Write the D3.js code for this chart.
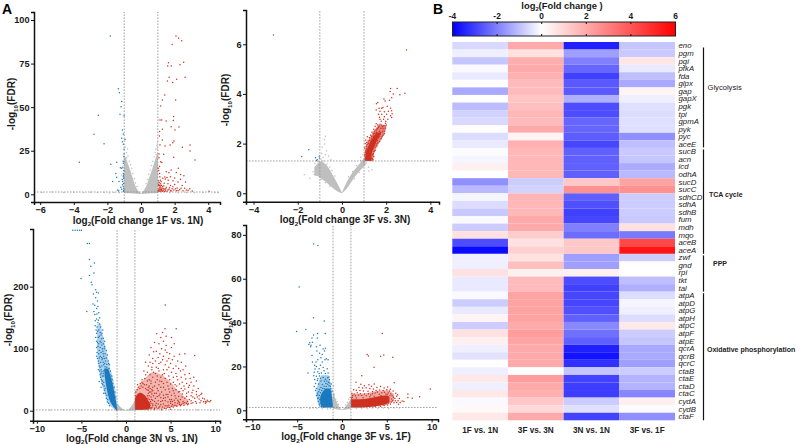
<!DOCTYPE html>
<html><head><meta charset="utf-8">
<script src="https://cdn.jsdelivr.net/npm/d3@7"></script>
<style>html,body{margin:0;padding:0;background:#fff}svg{display:block}text{font-family:"Liberation Sans",Arial,sans-serif}</style>
</head><body><svg id="fig" width="798" height="444"></svg>
<script>
// Volcano panel 1: 1F vs. 1N
const up1 = [[2.08,90.8],[2.24,89.5],[2.42,88.1],[1.85,85.9],[1.63,75.5],[2.54,75.7],[2.32,74.4],[1.59,73.6],[1.8,73.6],[1.67,67.1],[2.62,67.1],[1.57,65],[2.12,66],[1.88,64.2],[1.41,57],[1.27,54.1],[2.06,54.1],[1.17,50.7],[1.13,42.6],[1.23,42.6],[1.94,44.6],[1.49,42],[1.92,42.3],[1.27,37.3],[1.79,38.8],[2.02,36.9],[2.26,38.6],[1.11,36],[1.09,33.5],[1.27,31.2],[1.96,30.6],[1.89,29.6],[1.73,28.3],[1.43,27.7],[1.13,28.3],[2.92,28.3],[2.46,27],[2.92,24.9],[1.94,21.2],[3.21,19.7],[1.07,23.1],[1.17,18.7],[1.79,14],[2.22,14.9],[1.24,18.2],[1.07,21],[1.5,13],[1.66,12.3],[2.35,11.4],[2.55,10.6],[2.1,12.5],[1.1,12],[1.12,10],[1.3,9.2],[1.45,8.8],[1.55,9.6],[1.9,7.8],[2.2,7],[1.08,6.8],[1.15,6],[1.22,5.2],[1.38,6.4],[1.6,6],[2.0,5.6],[2.45,5],[1.05,5],[1.12,4.2],[1.18,3.6],[1.28,4.4],[1.35,3.2],[1.5,4],[1.7,3.8],[1.85,3.2],[2.15,3.6],[2.3,2.6],[2.6,3.4],[2.9,3.2],[1.06,3],[1.1,2.4],[1.2,2.2],[1.32,2.5],[1.45,2.1],[1.6,2.4],[1.75,2.2],[1.95,2.5],[2.1,2],[2.5,2.1],[2.8,2.3],[3.05,1.9],[4.05,1.8],[1.04,1.7],[1.14,1.6],[1.26,1.8],[1.4,1.6],[1.55,1.7],[1.16,8],[1.05,7.6],[1.2,7.2],[1.04,5.8],[1.1,5.2],[1.17,4.8],[1.25,3.4],[1.08,3.6],[1.15,2.9],[1.22,2.8],[1.3,1.9],[1.12,1.9],[1.02,2.2],[1.36,4.9],[1.42,2.9],[1.48,3.2],[1.66,2.9],[1.8,1.9],[1.9,4.4],[2.05,3.2],[2.2,2.2],[2.38,3.4],[2.7,2.4],[1.42,9.9],[1.75,10],[2.0,9.4],[2.35,8.6],[1.62,8],[2.65,7],[1.03,15],[1.05,13.6],[1.1,15.9],[1.35,23],[1.75,5]];
const down1 = [[-1.83,90.8],[-1.35,60.6],[-1.29,58.3],[-1.15,53.2],[-1.19,50.3],[-1.01,45],[-2.54,45.3],[-1.25,45.9],[-2.8,34.4],[-2.2,29],[-3.67,18.4],[-1.8,17.2],[-1.45,18.4],[-1.5,11.9],[-1.45,9.8],[-1.69,7.3],[-1.31,7.3],[-1.4,2.5],[-1.33,2.1],[-1.11,36.9],[-1.05,34.6],[-1.15,32.1],[-.95,31.5],[-1.11,30.2],[-1.05,28.7],[-1.01,25.8],[-1.01,23.1],[-1.02,21.6],[-1.05,17.8],[-1.15,14.9],[-1.05,12],[-1.03,9.2],[-1.09,7.3],[-1.05,4.4],[-1.15,2.9],[-1.03,2.1],[-1.23,15.3],[-1.04,11],[-1.1,5.5],[-1.02,3.2],[-1.03,19],[-1.08,15.5],[-1.02,13.6],[-1.06,10],[-1.12,8.5],[-1.04,6.2],[-1.2,4],[-1.04,1.8]];
const grey1 = [[-5.9,1.1],[-5.3,1.3],[-4.6,1],[-4,1.2],[-3.4,.9],[-3,1.2],[-2.6,1],[-2.2,1.1],[-1.9,.8],[-1.6,1.1],[-1.3,.9],[-1.1,19],[-1.15,11],[-.92,27],[-.86,24],[-.8,26],[.98,30],[.94,28],[.88,26],[1.7,.9],[2.2,.8],[2.7,1],[3.2,.9],[3.7,1],[4.4,1.1],[4.6,.9],[-.85,21],[-.78,22],[-.7,19],[-.62,17],[-.55,15],[-.48,12],[-.4,9],[-.33,6.5],[-.24,4.5],[.3,6],[.38,8.5],[.46,11.5],[.54,14],[.62,16.5],[.7,19],[.78,21.5],[.84,24],[.9,23],[.96,26]];
const lobe1L = {x:[-1,-.9,-.8,-.65,-.5,-.4,-.25,-.1,0], lo:[.6,.6,.6,.6,.5,.5,.3,.2,.1], hi:[22,21,18,14,9.5,6.5,3.2,1.4,.3]};
const lobe1R = {x:[0,.1,.2,.35,.5,.65,.8,.95,1], lo:[.1,.2,.3,.5,.5,.6,.6,.6,.6], hi:[.3,1.4,2.8,5.5,10,14,18.5,23,24]};

// Volcano panel 2: 3F vs. 3N
const up2 = [[2.92,5.77],[2.5,4.22],[2.2,4.22],[2.85,4.03],[2.62,3.97],[2.18,4.1],[2.32,4],[2.25,3.85],[1.9,3.8],[1.95,3.72],[2.15,3.75],[1.62,3.65],[1.56,3.6],[1.68,3.42],[1.85,3.45],[2.05,3.5],[2.2,3.42],[2.25,3.32],[1.8,3.42],[1.55,3.35],[1.72,3.3],[1.92,3.28],[2.1,3.3],[2.27,3.2],[1.65,3.18],[1.8,3.18],[2.02,3.18],[2.2,3.12],[1.7,3.06],[1.92,3.08],[2.25,3.05],[1.72,2.98],[1.88,2.98],[2.08,2.98],[1.78,2.9],[1.98,2.9],[1.55,2.8],[1.62,2.75],[1.72,2.78],[1.8,2.75],[1.9,2.72],[2,2.75],[1.5,2.7],[1.65,2.65],[1.76,2.62],[1.86,2.6],[1.96,2.62],[1.44,2.58],[1.55,2.55],[1.7,2.5],[1.83,2.48],[1.92,2.5],[1.36,2.46],[1.48,2.42],[1.62,2.38],[1.72,2.36],[1.86,2.34],[1.3,2.34],[1.42,2.3],[1.54,2.26],[1.66,2.24],[1.77,2.2],[1.15,2.28],[1.24,2.24],[1.36,2.18],[1.47,2.14],[1.6,2.12],[1.7,2.08],[1.08,2.14],[1.18,2.1],[1.3,2.06],[1.42,2.02],[1.55,1.98],[1.05,2],[1.14,1.96],[1.25,1.92],[1.37,1.88],[1.5,1.86],[1.02,1.82],[1.12,1.78],[1.22,1.74],[1.35,1.72],[1.45,1.68],[1.05,1.65],[1.15,1.6],[1.28,1.58],[1.38,1.55],[1.03,1.5],[1.13,1.45],[1.25,1.42],[1.36,1.4],[1.05,1.36],[1.18,1.33],[1.3,1.32],[1.97,2.82],[1.84,2.68],[1.6,2.6],[1.42,2.4],[1.92,2.4],[1.81,2.28],[1.7,2.3],[1.25,2.12],[1.12,2.04],[1.62,2.02],[1.5,2.06],[1.58,1.9],[1.44,1.95],[1.4,1.78],[1.5,1.72],[1.1,1.88],[1.08,1.7],[1.42,1.6],[1.44,1.48],[1.4,1.35],[1.06,1.42],[1.74,2.44],[1.68,2.7],[1.46,2.5],[1.34,2.28],[1.56,2.46],[1.2,2],[1.04,1.56]];
const down2 = [[-3.1,6.37],[-1.5,1.75],[-1.82,1.48],[-1.03,1.5],[-1.02,1.42],[-1.2,1.43],[-1.12,1.35],[-1.15,1.32]];
const grey2 = [[-.75,2.3],[-.8,2.15],[-.78,1.98],[-.9,1.85],[-.7,1.7],[-.92,1.6],[-.75,1.55],[-.6,1.5],[-.85,1.45],[-.5,1.35],[-1.15,.95],[-1.3,.88],[-1.25,.75],[-1.7,.75],[-1.45,.6],[.95,1.55],[.85,1.45],[1.2,1.05],[1.35,.95],[-1.22,1.2],[-1.1,1.28],[-.95,1.38],[-.85,1.3],[-.68,1.18],[-.55,1.06],[-.45,.92],[-.32,.7],[.3,.66],[.48,.88],[.66,1.12],[.84,1.32],[1.1,1.22],[1.22,.9],[.78,.84],[.56,.58],[-.95,.55],[-.75,.42],[-.55,.28]];
const band2L = {x:[-1.25,-1.1,-1,-.8,-.6,-.4,-.2,0], lo:[.72,.7,.62,.5,.35,.2,.07,0], hi:[1.05,1.2,1.28,1.22,1.02,.72,.38,.03]};
const band2R = {x:[0,.2,.4,.6,.8,1,1.07], lo:[0,.17,.42,.68,.9,1.08,1.15], hi:[.03,.42,.74,.98,1.2,1.42,1.5]};
const wedge2 = {y:[1.3,1.6,1.9,2.2,2.45], x0:[1.06,1.08,1.2,1.36,1.56], x1:[1.33,1.35,1.48,1.62,1.78]};
const halo2 = {y:[1.3,1.6,1.9,2.2,2.5,2.75], x0:[1.03,1.03,1.08,1.24,1.44,1.66], x1:[1.42,1.46,1.6,1.8,1.96,2.02]};

// Volcano panel 3: 3N vs. 1N
const up3 = [[4.4,170.6],[4.37,132],[5.63,132],[3.43,124],[3.9,118],[4.1,126],[4.5,120],[3.2,110],[3.7,108],[4.2,112],[4.5,105],[5.1,118],[5.4,108],[2.8,102],[3.4,96],[4,100],[4.6,94],[5.1,102],[6,91],[6.6,92],[7.7,89],[2.6,90],[3,84],[3.6,86],[4.2,88],[4.8,84],[5.4,88],[2.2,78],[2.5,72],[3,76],[3.4,70],[3.9,78],[4.4,74],[5,76],[5.6,72],[6.2,78],[6.7,72],[2,64],[2.4,62],[2.9,66],[3.3,60],[3.7,64],[4.1,58],[4.6,66],[5.1,62],[5.6,60],[6.1,64],[6.6,58],[7.1,60],[7.6,54],[7.9,48],[2.1,52],[2.6,50],[3,54],[3.5,50],[4,47],[4.4,52],[4.9,50],[5.3,46],[5.8,50],[6.3,46],[6.8,44],[7.3,46],[8.1,36],[1.6,44],[2.3,42],[2.8,44],[3.2,40],[3.7,42],[4.2,38],[4.7,40],[5.2,36],[5.7,40],[6.2,36],[6.6,35],[7,38],[7.5,33],[8.5,28],[8.4,26],[7.9,26],[7.3,24],[6.8,28],[6.3,27],[5.9,30],[5.4,28],[4.9,30],[4.5,26],[4,30],[3.6,32],[3.2,28],[2.9,34],[2.5,33],[2.4,24],[2.8,22],[3.3,20],[3.7,24],[4.2,20],[4.7,22],[5.1,18],[5.6,20],[6.1,18],[6.6,20],[7.1,18],[7.7,20],[8.2,19],[8.8,19],[9.4,14.5],[9.2,15],[9,14],[8.7,14.5],[8.3,13],[7.9,12],[7.5,13],[7,11],[6.6,13],[6.2,10],[5.8,12],[5.4,9],[5,12],[4.6,8],[4.2,11],[3.8,7],[3.4,12],[3,8],[2.6,13],[2.4,6],[3.2,4],[3.6,3],[4,2.5],[4.5,3.5],[4.9,5],[5.3,6],[5.7,7],[6.1,8],[6.5,9],[6.9,9.5],[2.8,3],[5,2.5],[9.5,16.5],[8.9,12],[3.9,15],[4.4,16],[5.2,15],[5.9,15],
[3.1,95],[3.8,92],[4.4,98],[4.9,92],[3.3,80],[3.7,76],[4.1,82],[4.6,80],[5.2,82],[5.8,80],[2.7,78],[2.9,70],[3.6,68],[4.2,66],[4.8,70],[5.3,68],[5.9,68],[6.4,66],[2.2,58],[2.7,58],[3.1,62],[3.5,56],[3.9,54],[4.3,60],[4.8,56],[5.3,54],[5.7,55],[6.2,54],[6.7,51],[7.2,52],[1.8,50],[2.4,48],[2.8,48],[3.3,46],[3.8,48],[4.2,44],[4.6,46],[5,43],[5.5,42],[6,43],[6.5,40],[7.1,41],[7.6,40],[1.9,44],[2.6,40],[3,38],[3.5,36],[3.9,38],[4.4,34],[4.8,35],[5.3,32],[5.6,34],[6,31],[6.4,32],[7,30],[7.4,29],[7.9,31],[8.2,24],[2.7,36],[3,32],[3.4,28],[3.8,27],[4.2,25],[4.7,26],[5.1,25],[5.5,24],[5.9,23],[6.3,22],[6.8,23],[7.5,22],[8,22],[8.6,20],[9.1,17],[2.5,28],[2.9,27],[3.1,24],[3.5,23],[3.9,21],[4.4,21],[4.9,18],[5.4,17],[5.8,17],[6.4,15],[6.9,15],[7.3,16],[7.8,15],[8.4,16],[8.9,15],[2.6,18],[3,17],[3.2,15],[3.6,16],[4.1,16],[4.7,14],[5,15],[5.5,13],[6,13],[6.4,12],[6.8,12],[7.3,12],[2.8,12],[3,11],[3.3,9],[3.6,11],[3.9,10],[4.4,8],[4.8,9],[5.2,10],[5.6,9],[6,10],[2.6,8],[2.9,5],[3.4,6],[3.7,5],[4.1,6],[4.3,4],[4.7,5.5],[5.1,7],[2.5,3],[3.2,2],[2.7,5],
[1.1,30],[1.25,34],[1.4,38],[1.55,36],[1.7,40],[1.9,38],[2.05,42],[2.2,36],[2.35,34],[2.5,38],[2.65,30],[2.8,30],[1.3,42],[1.8,46],[1.05,24],[2.45,20],[2.6,24],[2.75,15],[2.85,18],[2.55,11],[2.7,9]];
const down3 = [[-5.97,291],[-5.7,291],[-5.45,291],[-5.2,291],[-5,291],[-4.33,269.5],[-4.1,269.5],[-4.1,244],[-3.54,238],[-3.95,233],[-3.6,222],[-5.04,213],[-4.1,218],[-3.9,207],[-3.8,203],[-3.3,191],[-3.1,190],[-3.4,182],[-3.2,177],[-3.7,172],[-4.4,160],[-3.3,165],[-3.5,155],[-3.05,158],[-3.3,148],[-2.95,150],[-3.15,142],[-3.45,137],[-2.85,135],[-3.05,130],[-2.6,130],[-3.3,125],[-2.8,122],[-3.1,118],[-2.55,117],[-3.2,110],[-2.9,112],[-2.4,112],[-2.7,106],[-3.3,102],[-2.4,103],[-3,97],[-2.6,96],[-2.2,97],[-3.3,88],[-2.9,88],[-2.5,88],[-2.1,90],[-3.1,80],[-2.7,82],[-2.3,80],[-2,80],[-3,72],[-2.5,74],[-1.85,74],[-3.1,66],[-2.7,63],[-2.3,66],[-1.75,64],[-2.9,58],[-2.5,56],[-1.6,56],[-2.75,50],[-3,47],[-2.6,42],[-2.8,38],[-2.4,33],[-2.5,28],[-2.2,20],[-2.1,14],[-1.85,8],
[-3.4,195],[-3.65,188],[-3.5,170],[-3.15,168],[-3.6,160],[-3.25,156],[-3.45,145],[-3.1,146],[-3.25,135],[-2.95,140],[-3.35,130],[-3.2,128],[-2.9,126],[-2.7,125],[-3.4,118],[-3,120],[-2.75,116],[-3.3,112],[-3.05,108],[-2.8,110],[-2.55,108],[-3.15,104],[-2.9,102],[-2.65,100],[-2.45,100],[-3.25,94],[-3.05,92],[-2.8,94],[-2.55,92],[-2.35,92],[-3.2,84],[-3,85],[-2.75,86],[-2.6,84],[-2.4,84],[-2.2,85],[-2.85,78],[-2.55,78],[-2.4,76],[-2.15,75],[-1.95,76],[-3.05,76],[-2.9,70],[-2.7,72],[-2.35,71],[-2.15,70],[-1.9,68],[-2.95,64],[-2.8,66],[-2.5,64],[-1.95,62],[-2.8,60],[-2.65,56],[-2.55,60],[-1.8,58],[-1.7,52],[-2.85,54],[-2.65,48],[-2.5,46],[-1.55,50],[-1.5,44],[-2.7,44],[-2.45,40],[-2.35,36],[-1.35,38],[-1.25,30],[-2.3,28],[-1.15,22],[-2.15,25],[-2.05,18],[-1.95,12]];
const grey3 = [[-1.1,6],[-.95,10],[1.02,14],[.95,12],[.85,8],[-2,.7],[-3.5,1],[-5,.8],[-7,1],[-8.5,.9],[2.5,1],[4,.9],[6,1.2],[8,1.1],[9.5,.9]];
const wedge3B = {y:[0,6,14,25,40,55,68], x0:[-1.05,-1.4,-1.75,-2,-2.22,-2.38,-2.45], x1:[-1,-1.02,-1.1,-1.25,-1.45,-1.72,-2]};
const halo3B = {y:[0,10,25,50,75,100,125,140], x0:[-1.08,-1.9,-2.35,-2.85,-3.1,-3.25,-3.25,-3.2], x1:[-1,-1.02,-1.12,-1.42,-1.9,-2.25,-2.65,-2.85]};
const wedge3R = {x:[1,1.3,1.6,2,2.4,2.7], lo:[1,1,1,1.5,2,4], hi:[20,27,29,26,19,10]};
const halo3R = {x:[1,1.5,2,2.5,3,4,5,6,7], lo:[1,1,1,1.5,2,3,5,8,11], hi:[30,42,50,58,62,58,46,30,17]};
const bowl3 = {x:[-1,-.8,-.5,-.25,0,.25,.5,.8,1], lo:[.6,.5,.4,.2,0,.2,.4,.5,.6], hi:[12,9,4.5,2,.6,2,5,12,18]};

// Volcano panel 4: 3F vs. 1F
const up4 = [[4.5,35],[2.8,25.5],[2.95,24.8],[4.3,24.6],[4.66,25.2],[5.67,24.2],[3.58,19.6],[2.2,15.8],[9.85,9.7],[8.66,6.2],[7.35,7.4],[7.35,5.8],[7.84,5.5],[6.9,4],[1.57,12.8],[5.82,12.6],[2.1,11.9],[2.5,11.2],[3,11.6],[3.3,11],[3.6,12],[1.9,10.4],[2.3,10.2],[2.7,10.3],[3.1,9.9],[3.5,9.7],[3.9,10.4],[4.3,10.8],[4.7,10.2],[5.1,10.6],[5.4,9.6],[1.3,9.4],[1.6,9.2],[2,9],[2.4,8.8],[2.9,8.7],[3.4,8.6],[3.8,9],[4.2,9.3],[4.6,9],[5,9.4],[5.3,8.8],[5.7,8.8],[6,7.8],[6.2,7.1],[6.1,6.4],[6.4,5.4],[5.9,5.5],[6.5,3.6],[6.1,3.6],[5.8,3.4],[5.4,2.9],[5.1,2.4],[4.7,2.2],[4.3,1.9],[6.7,4.3],
[1.1,7.8],[1.2,6.8],[1.35,7.4],[1.5,6.6],[1.7,8],[1.85,7],[2.05,7.6],[2.2,6.7],[2.5,7.4],[2.7,6.6],[2.95,7.5],[3.2,7],[3.4,7.6],[3.7,7.9],[3.95,8.4],[4.15,7.3],[4.45,8],[4.75,8.2],[4.9,7.4],[5.15,7.9],[5.45,7.4],[5.6,6.6],[5.75,6],[5.55,5.2],[5.65,4.4],[5.5,3.8],[5.95,4.4],[6.25,4.4],[6.3,2.8],[5.2,3.3],[4.9,2.9],[4.55,2.5],[4.1,2.2],[3.7,1.8],[1.05,5.6],[1.15,6],[1.6,5.6],[2.35,5.7],[3.1,6.2],[3.6,6.4],[4.35,6.8],[5.05,7.1],[5.35,6.6]];
const down4 = [[-3.17,75.8],[-2.69,75.2],[-4.78,56.2],[-3.17,42.2],[-1.98,40.7],[-4.03,36.9],[-5.07,35.9],[-2.72,35],[-3.17,34.3],[-1.87,35],[-3.35,33],[-2.75,33],[-3.3,31],[-3.6,30.8],[-3.7,30],[-3.45,29.7],[-3.5,29],[-2.85,29],[-2.45,29.7],[-1.85,28.3],[-2.1,28],[-1.95,27],[-2.8,27],[-3.35,25],[-2.5,26],[-2.2,25.4],[-2.35,24],[-1.75,23.5],[-1.9,23],[-1.55,23],[-2.7,23],[-3.3,22],[-3.05,20.5],[-2.85,20],[-3,18.8],[-2.55,19],[-2.1,19.5],[-3.8,17],[-3.1,17.4],[-2.7,17.6],[-2.3,17],[-1.85,16.8],[-3.15,15.8],[-2.85,15.5],[-2.5,15.6],[-2.1,15],[-3.05,14],[-2.75,13.6],[-2.35,13.4],[-1.95,13.2],[-2.95,12.2],[-2.6,12],[-2.2,11.8],[-3.1,10.8],[-2.85,10],[-2.95,9],[-2.75,7.8],[-2.85,6.8],[-2.7,5.5],[-2.5,2.4],[-2.1,1.5],
[-1.45,15.2],[-1.6,14.8],[-1.4,14],[-1.7,13.4],[-1.5,12.8],[-1.35,12.5],[-1.8,12.2],[-1.6,11.9],[-1.45,11.2],[-1.3,11],[-2,11],[-1.75,10.8],[-2.35,10.4],[-2.15,10],[-1.95,9.8],[-2.5,9.5],[-2.25,9],[-2.6,8.5],[-2.4,8],[-2.7,7],[-2.5,6.8],[-2.6,5.6],[-2.48,4.8],[-2.62,4],[-2.45,3.2],[-2.25,2.4],[-2.3,1.7],[-1.2,12],[-1.25,9.8],[-1.12,8.6],[-1.85,14.2],[-2.4,14.6],[-2.7,14.4],[-2.55,16.8],[-2,18],[-2.4,20.5],[-2.9,22],[-2.2,22],[-1.65,19],[-1.55,17]];
const grey4 = [[-1.05,9],[-.95,11],[-.9,7.5],[1.1,5],[.95,6],[-3.2,1],[-3.6,.8],[-2.8,.9],[-2.2,.7],[-1.6,.6],[-1.3,.8],[1.6,.8],[2.2,.9],[2.8,.7],[3.4,1],[4,.9],[4.6,1],[5.2,.8],[5.8,1.1],[6.4,1],[-4.6,1.1],[-5.8,.9],[-.85,7],[-.7,5],[-.55,4],[-.4,2.6],[.4,2.4],[.6,3.6],[.75,5],[.9,5.8]];
const wedge4B = {y:[1.3,3,5,7,9,10], x0:[-2.1,-2.4,-2.45,-2.35,-2.05,-1.8], x1:[-1,-1.03,-1.08,-1.15,-1.25,-1.35]};
const halo4B = {y:[1.3,4,8,12,16], x0:[-2.5,-2.75,-2.85,-2.7,-2.3], x1:[-1,-1.02,-1.1,-1.28,-1.5]};
const wedge4R = {x:[1,1.5,2,3,4,5,5.3], lo:[1.3,1.3,1.3,1.5,2.1,3,3.8], hi:[5,5,5,5.5,6.3,6.8,6]};
const halo4R = {x:[1,2,3,4,5,5.8], lo:[1.3,1.3,1.4,1.9,2.7,4.2], hi:[7.5,7.5,8,8.8,9.2,7.4]};
const bowl4 = {x:[-1,-.8,-.5,-.25,0,.25,.5,.8,1], lo:[.7,.6,.4,.2,0,.2,.4,.6,.7], hi:[8.5,6,3,1.2,.3,1,2.2,4,5.5]};

// Heatmap of log2 fold changes; one column per comparison
const comparisons = ["1F vs. 1N","3F vs. 3N","3N vs. 1N","3F vs. 1F"];
const genes = ["eno","pgm","pgi","pfkA","fda","glpx","gap","gapX","pgk","tpi","gpmA","pyk","pyc","aceE","sucB","acn","icd","odhA","sucD","sucC","sdhCD","sdhA","sdhB","fum","mdh","mqo","aceB","aceA","zwf","gnd","rpi","tkt","tal","atpA","atpD","atpG","atpH","atpC","atpF","atpE","qcrA","qcrB","qcrC","ctaB","ctaE","ctaD","ctaC","cydA","cydB","ctaF"];
const fc1F1N = [-.6,-.25,-.9,-.1,-.35,0,-1.35,0,-1.05,-.7,-.6,.05,-.55,-.35,-.05,-.15,.35,0,-1.75,-1.1,-.15,-.55,-.85,-.1,-.8,.7,-2.8,-3.85,-.25,-.25,.7,-.35,-.35,-.1,-.8,-.35,.25,-.8,.7,.35,-.25,-.45,-.02,-.25,.55,-.25,.55,-.1,.15,.55];
const fc3F3N = [2,.7,1.9,2,1.85,1.6,1.6,1.4,1.5,1.7,1.6,2,.25,1.85,1.7,1.7,1.7,1.7,-.8,-.7,1.75,1.7,1.7,2,2,1.2,.7,1.1,.7,1.5,.35,1.6,1.6,2.2,2.2,2.2,2.2,2,2.3,2.15,2,2,2,0,2.3,2,1.85,1.3,.9,2];
const fc3N1N = [-3.5,-1.5,-2,-2.4,-3,-2.6,-2.6,-1.25,-2.8,-2.8,-2.4,-2.4,-2.55,-2.9,-2.5,-2.5,-2.5,-2.5,1.3,2.6,-2.5,-2.75,-3,-2.9,-2,-2.3,1.3,1.3,-1.5,-1.5,.35,-2.8,-3,-2.9,-2.9,-2.75,-2.5,-1.85,-2.25,-2.5,-3.5,-3.7,-3.25,-.9,-2.95,-3.05,-3.05,-.8,-.5,-2.95];
const fc3F1F = [-.9,-.85,.6,-.35,-1,-1.35,.25,-.25,-.5,-.55,-.5,-.5,-1.75,-1,-.85,-.9,-1.3,-1.1,2.2,2.6,-.8,-.8,-.8,-.85,.7,-2.1,4.3,5.5,-.8,.05,0,-1,-1.25,-.55,-.15,-.25,-.55,.55,-.8,-.9,-1.35,-1.35,-1.5,-.8,-1.2,-1.2,-1.9,.35,-.05,-1.75];
const heatColumns = [fc1F1N,fc3F3N,fc3N1N,fc3F1F];
const legendTicks = [-4,-2,0,2,4,6];
const pathways = [{name:"Glycolysis",first:0,last:13,bold:false,labelY:87.3,labelX:707.5},{name:"TCA cycle",first:14,last:27,bold:true,labelY:195,labelX:709},{name:"PPP",first:28,last:32,bold:true,labelY:263.7,labelX:713},{name:"Oxidative phosphorylation",first:33,last:49,bold:true,labelY:349.3,labelX:707}];

const svg = d3.select("#fig");
const BLUE="#1a7abf", RED="#cf3020", GREY="#bfbfbf";

// A bold axis caption with a small subscript "2" or "10"
function subLabel(sel, before, sub, after, size){
  sel.attr("font-weight","bold").attr("font-size",size).attr("fill","#1a1a1a").attr("text-anchor","middle");
  sel.append("tspan").text(before);
  sel.append("tspan").text(sub).attr("font-size",size*.62).attr("dy",size*.28);
  sel.append("tspan").text(after).attr("dy",-size*.28);
}

function volcano(p){
  const g = svg.append("g");
  const x = d3.scaleLinear().domain(p.xDomain).range(p.xRange);
  const y = d3.scaleLinear().domain(p.yDomain).range(p.yRange);
  const [bottom, top] = p.yRange;

  const horizontal = d3.area().x(d=>x(d.x)).y0(d=>y(d.lo)).y1(d=>y(d.hi)).curve(d3.curveMonotoneX);
  const vertical = d3.area().y(d=>y(d.y)).x0(d=>x(d.x0)).x1(d=>x(d.x1)).curve(d3.curveMonotoneY);
  const zipH = c => c.x.map((v,i)=>({x:v,lo:c.lo[i],hi:c.hi[i]}));
  const zipV = c => c.y.map((v,i)=>({y:v,x0:c.x0[i],x1:c.x1[i]}));
  const fillH=(b,col,o=1)=>g.append("path").attr("d",horizontal(zipH(b))).attr("fill",col).attr("fill-opacity",o);
  const fillV=(b,col,o=1)=>g.append("path").attr("d",vertical(zipV(b))).attr("fill",col).attr("fill-opacity",o);

  // dense clouds are drawn as filled outlines, lighter where the points thin out;
  // sparse points are single dots
  (p.greyBands||[]).forEach(b=>fillH(b,GREY));
  const dots=(arr,col)=>g.append("g").selectAll("circle").data(arr).join("circle")
    .attr("cx",d=>x(d[0])).attr("cy",d=>y(d[1])).attr("r",.75).attr("fill",col);
  dots(p.grey,GREY);
  (p.blueHalo||[]).forEach(b=>fillV(b,BLUE,p.haloOpacity));
  (p.redHaloV||[]).forEach(b=>fillV(b,RED,p.haloOpacity));
  (p.redHaloH||[]).forEach(b=>fillH(b,RED,p.haloOpacity));
  (p.blueV||[]).forEach(b=>fillV(b,BLUE));
  (p.redV||[]).forEach(b=>fillV(b,RED));
  (p.redH||[]).forEach(b=>fillH(b,RED));
  dots(p.down,BLUE);
  dots(p.up,RED);

  // significance thresholds
  const rule=(x1,x2,y1,y2)=>g.append("line").attr("x1",x1).attr("x2",x2).attr("y1",y1).attr("y2",y2)
    .attr("stroke","#8a8a8a").attr("stroke-width",.8).attr("stroke-dasharray","1.6 1.4");
  rule(x(-1),x(-1),bottom,top); rule(x(1),x(1),bottom,top);
  rule(p.xRange[0],p.xRange[1],y(1.3),y(1.3));

  // axes
  const ax=g.append("g").attr("transform",`translate(0,${bottom})`)
    .call(d3.axisBottom(x).tickValues(p.xTicks).tickSizeOuter(0).tickSize(3).tickPadding(1.5));
  const ay=g.append("g").attr("transform",`translate(${p.xRange[0]},0)`)
    .call(d3.axisLeft(y).tickValues(p.yTicks).tickSizeOuter(0).tickSize(3).tickPadding(1.5));
  [ax,ay].forEach(a=>{
    a.select(".domain").attr("stroke","#111").attr("stroke-width",1.5);
    a.selectAll(".tick line").attr("stroke","#111").attr("stroke-width",1);
    a.selectAll("text").attr("font-family",'"Liberation Sans",Arial,sans-serif')
      .attr("font-size",9.2).attr("font-weight","bold").attr("fill","#1a1a1a");
  });

  g.append("text").attr("x",p.xTitleX).attr("y",p.xTitleY)
    .call(subLabel,"log","2",`(Fold change ${p.name})`,10);
  g.append("text").attr("transform",`translate(${p.yTitleX},${p.yTitleY}) rotate(-90)`)
    .call(subLabel,"-log","10","(FDR)",10);
}

volcano({name:"1F vs. 1N",xDomain:[-6.37,4.7],xRange:[34,220],yDomain:[-4.42,104.6],yRange:[202,12],
  xTicks:[-6,-4,-2,0,2,4],yTicks:[0,25,50,75,100],xTitleX:138,xTitleY:223.5,yTitleX:15,yTitleY:104,
  up:up1,down:down1,grey:grey1,greyBands:[lobe1L,lobe1R]});
volcano({name:"3F vs. 3N",xDomain:[-4.34,4.39],xRange:[246,439],yDomain:[-.34,7.38],yRange:[201.7,10],
  xTicks:[-4,-2,0,2,4],yTicks:[0,2,4,6],xTitleX:345,xTitleY:223,yTitleX:229,yTitleY:100,
  up:up2,down:down2,grey:grey2,greyBands:[band2L,band2R],redV:[wedge2],redHaloV:[halo2],haloOpacity:.6});
volcano({name:"3N vs. 1N",xDomain:[-10.43,10.54],xRange:[33,220],yDomain:[-16.1,293],yRange:[420.7,229],
  xTicks:[-10,-5,0,5,10],yTicks:[0,100,200],xTitleX:132,xTitleY:441.5,yTitleX:12,yTitleY:320,
  up:up3,down:down3,grey:grey3,greyBands:[bowl3],blueV:[wedge3B],blueHalo:[halo3B],redH:[wedge3R],redHaloH:[halo3R],haloOpacity:.35});
volcano({name:"3F vs. 1F",xDomain:[-10.71,10.71],xRange:[246,438],yDomain:[-4.1,84.5],yRange:[419.3,225],
  xTicks:[-10,-5,0,5,10],yTicks:[0,20,40,60,80],xTitleX:346,xTitleY:440,yTitleX:230,yTitleY:320,
  up:up4,down:down4,grey:grey4,greyBands:[bowl4],blueV:[wedge4B],blueHalo:[halo4B],redH:[wedge4R],redHaloH:[halo4R],haloOpacity:.4});

// Panel letters
svg.append("text").attr("x",2).attr("y",14).attr("font-size",14).attr("font-weight","bold").text("A");
svg.append("text").attr("x",433).attr("y",13.5).attr("font-size",14).attr("font-weight","bold").text("B");

// Heatmap
const color = d3.scaleLinear().domain([-4,0,6]).range(["#0000ff","#ffffff","#ff0000"]);
const colBand = d3.scaleBand().domain(comparisons).range([452.3,675]);
const rowBand = d3.scaleBand().domain(genes).range([42,420.3]);
const heat = svg.append("g");
heatColumns.forEach((vals,c)=>{
  heat.append("g").selectAll("rect").data(vals).join("rect")
    .attr("x",colBand(comparisons[c])).attr("width",colBand.bandwidth())
    .attr("y",(d,i)=>rowBand(genes[i])).attr("height",rowBand.bandwidth())
    .attr("fill",d=>color(d));
});
heat.append("g").selectAll("text").data(genes).join("text")
  .attr("x",678.5).attr("y",g=>rowBand(g)+rowBand.bandwidth()/2).attr("dy","0.34em")
  .attr("font-size",7.8).attr("font-style","italic").attr("fill","#222").text(g=>g);
heat.append("g").selectAll("text").data(comparisons).join("text")
  .attr("x",c=>colBand(c)+colBand.bandwidth()/2).attr("y",433).attr("text-anchor","middle")
  .attr("font-size",8.2).attr("font-weight","bold").attr("fill","#222").text(c=>c);

// Pathway brackets
pathways.forEach(p=>{
  svg.append("line").attr("x1",703.5).attr("x2",703.5)
    .attr("y1",rowBand(genes[p.first])+1.5+(p.first===0?4:0)).attr("y2",rowBand(genes[p.last])+rowBand.bandwidth()-(p.first===0?.5:0))
    .attr("stroke","#111").attr("stroke-width",1.2);
  svg.append("text").attr("x",p.labelX).attr("y",p.labelY).attr("dy","0.34em")
    .attr("font-size",p.bold?7:7.6).attr("font-weight",p.bold?"bold":"normal").attr("fill","#222").text(p.name);
});

// Colour legend
const legendX = d3.scaleLinear().domain([-4,6]).range([452.5,675.5]);
const grad = svg.append("defs").append("linearGradient").attr("id","fcGrad");
[-4,0,6].forEach(v=>grad.append("stop").attr("offset",`${(v+4)*10}%`).attr("stop-color",color(v)));
svg.append("rect").attr("x",452.5).attr("y",22).attr("width",223).attr("height",14)
  .attr("fill","url(#fcGrad)").attr("stroke","#222").attr("stroke-width",1);
const leg = svg.append("g");
leg.selectAll("text").data(legendTicks).join("text")
  .attr("x",d=>legendX(d)).attr("y",19).attr("text-anchor","middle")
  .attr("font-size",8.4).attr("font-weight","bold").attr("fill","#1a1a1a").text(d=>d);
leg.selectAll("line.t").data(legendTicks.slice(1,-1)).join("line").attr("class","t")
  .attr("x1",d=>legendX(d)).attr("x2",d=>legendX(d)).attr("y1",22).attr("y2",24).attr("stroke","#111");
leg.selectAll("line.b").data(legendTicks.slice(1,-1)).join("line").attr("class","b")
  .attr("x1",d=>legendX(d)).attr("x2",d=>legendX(d)).attr("y1",34).attr("y2",36).attr("stroke","#111");
svg.append("text").attr("x",562).attr("y",8.5).call(subLabel,"log","2","(Fold change )",9.4);
</script></body></html>
